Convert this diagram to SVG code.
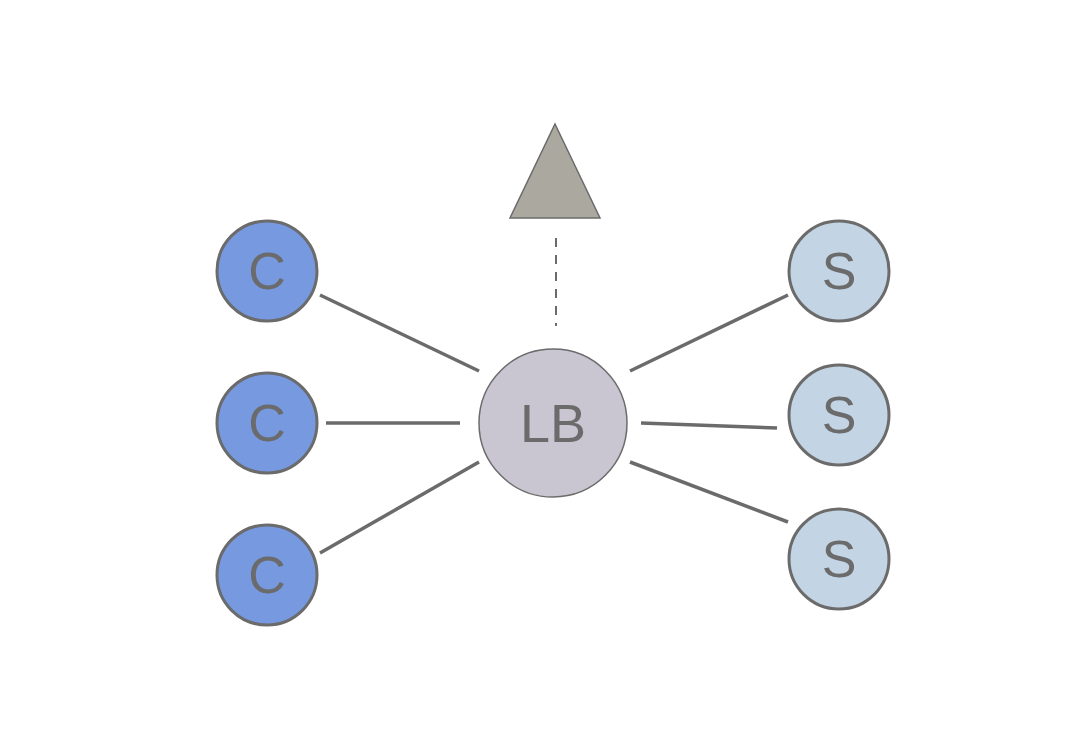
<svg xmlns="http://www.w3.org/2000/svg" width="1078" height="734" viewBox="0 0 1078 734">
<style>
.node{stroke:#6b6b6b;stroke-width:3}
.c{fill:#7799e0}
.s{fill:#c3d4e4}
.lb{fill:#c9c5d1;stroke:#6b6b6b;stroke-width:1.5}
.tri{fill:#aaa89f;stroke:#6b6b6b;stroke-width:1.5}
.lbl{font-family:"Liberation Sans",Arial,sans-serif;fill:#6b6b6b;text-anchor:middle;dominant-baseline:central}
.edge{stroke:#6b6b6b;stroke-width:3.5;fill:none}
.dash{stroke:#6b6b6b;stroke-width:2;stroke-dasharray:9 8;fill:none}
</style>
<rect width="1078" height="734" fill="#ffffff"/>
<g id="connectors">
<line class="edge" x1="320" y1="295" x2="479" y2="371"/>
<line class="edge" x1="326" y1="423" x2="460" y2="423"/>
<line class="edge" x1="320" y1="553" x2="479" y2="462"/>
<line class="edge" x1="630" y1="371" x2="788" y2="295"/>
<line class="edge" x1="641" y1="423" x2="777" y2="428"/>
<line class="edge" x1="630" y1="462" x2="788" y2="522"/>
<line class="dash" x1="556" y1="238" x2="556" y2="326"/>
</g>
<g id="triangle"><polygon class="tri" points="555,124 600,218 510,218"/></g>
<g id="c1"><circle class="node c" cx="267" cy="271" r="50"/><text class="lbl" x="267" y="271" font-size="52">C</text></g>
<g id="c2"><circle class="node c" cx="267" cy="423" r="50"/><text class="lbl" x="267" y="423" font-size="52">C</text></g>
<g id="c3"><circle class="node c" cx="267" cy="575" r="50"/><text class="lbl" x="267" y="575" font-size="52">C</text></g>
<g id="lb"><circle class="lb" cx="553" cy="423" r="74"/><text class="lbl" x="553" y="423" font-size="54">LB</text></g>
<g id="s1"><circle class="node s" cx="839" cy="271" r="50"/><text class="lbl" x="839" y="271" font-size="52">S</text></g>
<g id="s2"><circle class="node s" cx="839" cy="415" r="50"/><text class="lbl" x="839" y="415" font-size="52">S</text></g>
<g id="s3"><circle class="node s" cx="839" cy="559" r="50"/><text class="lbl" x="839" y="559" font-size="52">S</text></g>
</svg>
